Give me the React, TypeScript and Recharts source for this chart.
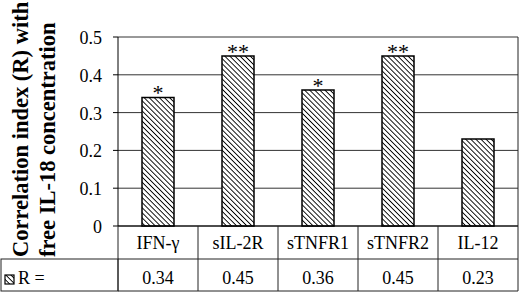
import React from "react";
import { BarChart, Bar, XAxis, YAxis, CartesianGrid, LabelList } from "recharts";

const categories = ["IFN-γ", "sIL-2R", "sTNFR1", "sTNFR2", "IL-12"];
const rValues = [0.34, 0.45, 0.36, 0.45, 0.23];
const significance = ["*", "**", "*", "**", ""];
const yTicks = [0, 0.1, 0.2, 0.3, 0.4, 0.5];
const rowLabel = "R =";
const yTitleLines = ["Correlation index (R) with", "free IL-18 concentration"];

const data = categories.map((c, i) => ({ category: c, r: rValues[i], sig: significance[i] }));

const W = 520;
const H = 294;
const TOP = 37;
const RIGHT = 2;
const Y_AXIS_W = 118;
const X_AXIS_H = 68;
const PLOT_BOTTOM = H - X_AXIS_H;
const ROW_SPLIT = 259;
const TABLE_BOTTOM = 291;
const BAND = (W - RIGHT - Y_AXIS_W) / categories.length;
const FONT = "'Liberation Serif', 'Times New Roman', serif";
const LINE = "#222";

function TableTick(props: any) {
  const { x, payload } = props;
  const i = props.index ?? payload.index;
  const left = x - BAND / 2;
  const right = x + BAND / 2;
  return (
    <g>
      <line x1={right} y1={PLOT_BOTTOM} x2={right} y2={TABLE_BOTTOM} stroke={LINE} strokeWidth={1} />
      <line x1={left} y1={ROW_SPLIT} x2={right} y2={ROW_SPLIT} stroke={LINE} strokeWidth={1} />
      <line x1={left} y1={TABLE_BOTTOM} x2={right} y2={TABLE_BOTTOM} stroke={LINE} strokeWidth={1} />
      {i === categories.length - 1 && (
        <line x1={right} y1={TOP} x2={right} y2={PLOT_BOTTOM} stroke={LINE} strokeWidth={1} />
      )}
      {i === 0 && (
        <g>
          <line x1={left} y1={PLOT_BOTTOM} x2={left} y2={TABLE_BOTTOM} stroke={LINE} strokeWidth={1} />
          <rect x={1} y={ROW_SPLIT} width={left - 1} height={TABLE_BOTTOM - ROW_SPLIT} fill="none" stroke={LINE} strokeWidth={1} />
          <rect x={5} y={275} width={9} height={9} fill="url(#hatch)" stroke="#000" strokeWidth={1.2} />
          <text x={18} y={284} fontFamily={FONT} fontSize={18} fill="#000">{rowLabel}</text>
        </g>
      )}
      <text x={x} y={249} textAnchor="middle" fontFamily={FONT} fontSize={18} fill="#000">
        {payload.value}
      </text>
      <text x={x} y={284} textAnchor="middle" fontFamily={FONT} fontSize={18} fill="#000">
        {rValues[i].toFixed(2)}
      </text>
    </g>
  );
}

function YTick(props: any) {
  const { y, payload } = props;
  return (
    <text x={Y_AXIS_W - 16} y={y + 7} textAnchor="end" fontFamily={FONT} fontSize={18} fill="#000">
      {String(payload.value)}
    </text>
  );
}

function StarLabel(props: any) {
  const { x, y, width, value } = props;
  if (!value) return null;
  return (
    <text x={x + width / 2} y={y + 3} textAnchor="middle" fontFamily={FONT} fontSize={22} fill="#000">
      {value}
    </text>
  );
}

function YTitle() {
  const baseY = 257;
  return (
    <g>
      {yTitleLines.map((t, k) => {
        const bx = 28 + k * 27;
        return (
          <text
            key={k}
            x={bx}
            y={baseY}
            transform={`rotate(-90, ${bx}, ${baseY})`}
            fontFamily={FONT}
            fontWeight="bold"
            fontSize={22.5}
            fill="#000"
          >
            {t}
          </text>
        );
      })}
    </g>
  );
}

export default function App() {
  return (
    <div style={{ position: "absolute", left: 0, top: 0, width: W, height: H, background: "#fff" }}>
      <BarChart width={W} height={H} data={data} margin={{ top: TOP, right: RIGHT, left: 0, bottom: 0 }}>
        <defs>
          <pattern id="hatch" width={3.6} height={3.6} patternUnits="userSpaceOnUse" patternTransform="rotate(-45)">
            <rect width={3.6} height={3.6} fill="#fff" />
            <line x1={0} y1={0} x2={0} y2={3.6} stroke="#000" strokeWidth={1.8} />
          </pattern>
        </defs>
        <CartesianGrid horizontal vertical={false} stroke="#333" strokeDasharray="" />
        <XAxis
          dataKey="category"
          height={X_AXIS_H}
          interval={0}
          tickLine={false}
          axisLine={{ stroke: "#000" }}
          tick={<TableTick />}
        />
        <YAxis
          width={Y_AXIS_W}
          domain={[0, 0.5]}
          ticks={yTicks}
          tickSize={5}
          axisLine={{ stroke: "#000" }}
          tickLine={{ stroke: "#000" }}
          tick={<YTick />}
          label={{ content: () => <YTitle /> }}
        />
        <Bar dataKey="r" fill="url(#hatch)" stroke="#000" strokeWidth={1.5} barSize={32} isAnimationActive={false}>
          <LabelList dataKey="sig" content={<StarLabel />} />
        </Bar>
      </BarChart>
    </div>
  );
}
